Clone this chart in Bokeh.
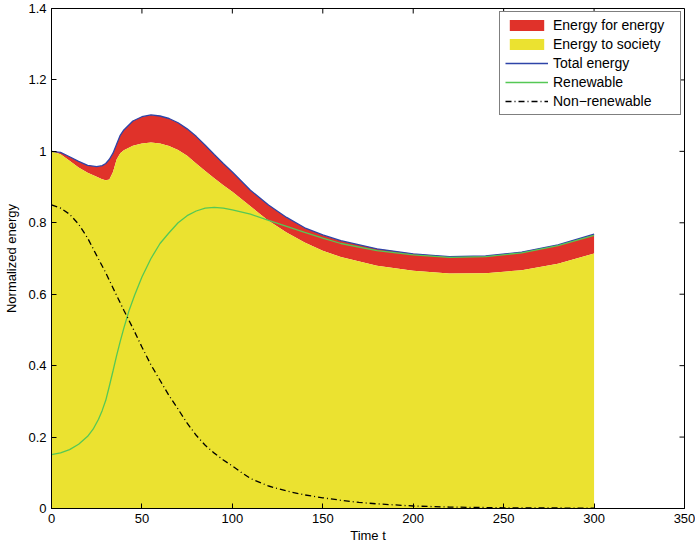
import math
from bokeh.plotting import figure
from bokeh.models import Range1d, FixedTicker, Legend, LegendItem, CustomJSTickFormatter
from bokeh.embed import file_html
from bokeh.resources import INLINE

# ---- data ----
t_energy = [0, 5, 10, 15, 20, 25, 28, 30, 32, 34, 36, 38, 40, 45, 50, 55, 60, 65, 70, 75,
            80, 85, 90, 95, 100, 110, 120, 130, 140, 150, 160, 180, 200, 220, 240, 260, 280, 300]
total_energy = [1.000, 0.997, 0.985, 0.972, 0.961, 0.957, 0.960, 0.966, 0.978, 0.995, 1.020, 1.045,
                1.060, 1.085, 1.097, 1.102, 1.099, 1.092, 1.080, 1.063, 1.042, 1.017, 0.991, 0.966,
                0.942, 0.891, 0.850, 0.815, 0.786, 0.766, 0.750, 0.727, 0.713, 0.705, 0.707, 0.718,
                0.738, 0.768]
energy_to_society = [1.000, 0.992, 0.974, 0.955, 0.940, 0.929, 0.922, 0.919, 0.921, 0.942, 0.977, 0.995,
                     1.003, 1.016, 1.022, 1.025, 1.022, 1.015, 1.004, 0.988, 0.966, 0.945, 0.925, 0.905,
                     0.887, 0.846, 0.806, 0.773, 0.745, 0.722, 0.704, 0.680, 0.666, 0.658, 0.659, 0.667,
                     0.685, 0.714]

t_renew = [0, 5, 10, 15, 20, 23, 26, 28, 30, 32, 34, 36, 38, 40, 43, 46, 50, 55, 60, 65, 70, 75, 80,
           85, 90, 95, 100, 110, 120, 130, 140, 150, 160, 180, 200, 220, 240, 260, 280, 300]
renewable = [0.151, 0.156, 0.165, 0.180, 0.202, 0.222, 0.250, 0.274, 0.303, 0.343, 0.385, 0.428, 0.468,
             0.505, 0.556, 0.598, 0.648, 0.700, 0.742, 0.772, 0.800, 0.820, 0.833, 0.841, 0.843, 0.841,
             0.836, 0.824, 0.807, 0.790, 0.773, 0.757, 0.742, 0.722, 0.710, 0.703, 0.705, 0.716, 0.736,
             0.765]

t_nonrenew = [0, 5, 10, 15, 20, 25, 30, 35, 40, 45, 50, 55, 60, 65, 70, 75, 80, 85, 90, 95, 100, 105,
              110, 120, 130, 140, 150, 160, 170, 180, 200, 220, 250, 300]
non_renewable = [0.850, 0.841, 0.824, 0.796, 0.757, 0.708, 0.660, 0.607, 0.555, 0.505, 0.452, 0.402,
                 0.359, 0.316, 0.278, 0.239, 0.205, 0.177, 0.155, 0.136, 0.119, 0.101, 0.084, 0.063,
                 0.049, 0.038, 0.030, 0.023, 0.017, 0.013, 0.007, 0.004, 0.002, 0.001]

x_ticks = [0, 50, 100, 150, 200, 250, 300, 350]
y_ticks = [0, 0.2, 0.4, 0.6, 0.8, 1, 1.2, 1.4]

labels = ["Energy for energy", "Energy to society", "Total energy", "Renewable", "Non\u2212renewable"]

FONT = "Liberation Sans"
RED = "#E0322A"
YELLOW = "#EBE230"
BLUE = "#2E44A8"
GREEN = "#55C855"

X_MIN, X_MAX = 0, 350
Y_MIN, Y_MAX = 0, 1.4

p = figure(width=695, height=548, output_backend="svg", toolbar_location=None,
           x_range=Range1d(X_MIN, X_MAX), y_range=Range1d(Y_MIN, Y_MAX),
           min_border_left=51, min_border_right=11, min_border_top=8, min_border_bottom=40)

p.xgrid.visible = False
p.ygrid.visible = False
p.outline_line_color = "black"
p.outline_line_width = 1
p.background_fill_color = "white"
p.border_fill_color = "white"

fmt = CustomJSTickFormatter(code="return String(Math.round(tick*10)/10);")

def style_axis(ax):
    ax.axis_line_color = "black"
    ax.major_tick_line_color = "black"
    ax.major_tick_in = 5
    ax.major_tick_out = 0
    ax.minor_tick_line_color = None
    ax.major_label_text_font = FONT
    ax.major_label_text_font_size = "13px"
    ax.major_label_text_color = "black"
    ax.axis_label_text_font = FONT
    ax.axis_label_text_font_size = "13px"
    ax.axis_label_text_font_style = "normal"
    ax.axis_label_text_color = "black"

xa = p.xaxis[0]
xa.ticker = FixedTicker(ticks=x_ticks)
xa.formatter = fmt
xa.axis_label = "Time t"
style_axis(xa)
xa.major_label_standoff = 5
xa.axis_label_standoff = 2

ya = p.yaxis[0]
ya.ticker = FixedTicker(ticks=y_ticks)
ya.formatter = fmt
ya.axis_label = "Normalized energy"
style_axis(ya)
ya.major_label_standoff = 5
ya.axis_label_standoff = 6

zeros = [0] * len(t_energy)
r_red = p.varea(x=t_energy, y1=energy_to_society, y2=total_energy, fill_color=RED, fill_alpha=1)
r_yel = p.varea(x=t_energy, y1=zeros, y2=energy_to_society, fill_color=YELLOW, fill_alpha=1)
r_blue = p.line(t_energy, total_energy, line_color=BLUE, line_width=1.3)
r_green = p.line(t_renew, renewable, line_color=GREEN, line_width=1.3)
r_black = p.line(t_nonrenew, non_renewable, line_color="black", line_width=1.3, line_dash="6 3 1 3")

# inward ticks on the top and right edges of the frame (MATLAB style box)
p.ray(x=x_ticks, y=[Y_MAX] * len(x_ticks), length=5, length_units="screen",
      angle=-math.pi / 2, line_color="black", line_width=1)
p.ray(x=[X_MAX] * len(y_ticks), y=y_ticks, length=5, length_units="screen",
      angle=math.pi, line_color="black", line_width=1)

legend = Legend(items=[
    LegendItem(label=labels[0], renderers=[r_red]),
    LegendItem(label=labels[1], renderers=[r_yel]),
    LegendItem(label=labels[2], renderers=[r_blue]),
    LegendItem(label=labels[3], renderers=[r_green]),
    LegendItem(label=labels[4], renderers=[r_black]),
], location="top_right")
legend.label_text_font = FONT
legend.label_text_font_size = "14px"
legend.label_text_color = "black"
legend.glyph_width = 43
legend.glyph_height = 14
legend.label_height = 15
legend.label_width = 122
legend.label_standoff = 5
legend.spacing = 3
legend.padding = 5
legend.margin = 3
legend.border_line_color = "black"
legend.border_line_width = 1
legend.background_fill_color = "white"
legend.background_fill_alpha = 1
p.add_layout(legend, "center")

open("out.html", "w").write(file_html(p, INLINE))
